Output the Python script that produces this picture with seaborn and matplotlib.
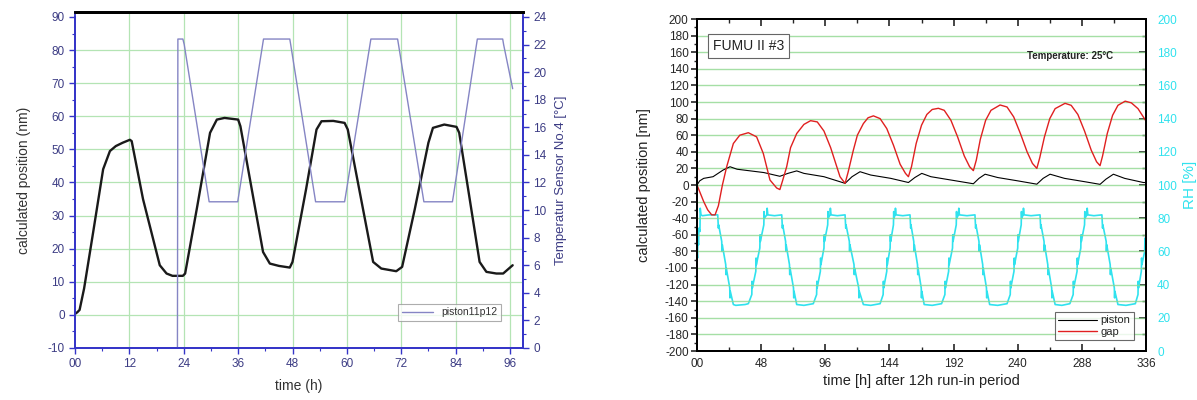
import matplotlib
matplotlib.use("Agg")
import matplotlib.pyplot as plt
from matplotlib.ticker import MultipleLocator
import seaborn as sns

# ---- left chart: piston11p12 and temperature sensor 4 ----
piston_t = [0, 0.5, 1, 2, 4, 6.2, 7.7, 9, 10.5, 12.1, 12.5, 15, 18.7, 20.2, 21.5, 23.8,
            24.3, 27, 29.8, 31.3, 33, 36, 36.5, 39, 41.5, 43, 45, 47.4,
            48, 51, 53.3, 54.4, 57, 59.5, 60.2, 63, 65.8, 67.6, 70.9,
            72.2, 75, 78, 79, 81.5, 84.2, 84.8, 87, 89.3, 90.8, 93, 94.5, 96.6]
piston_y = [0.3, 0.8, 1.5, 8, 25, 44, 49.5, 51, 52, 52.9, 52.5, 35, 15, 12.5, 11.8, 11.8,
            12.5, 33, 55, 59, 59.5, 59, 57, 38, 19, 15.5, 14.8, 14.3,
            16, 38, 56, 58.5, 58.6, 58, 56, 36, 16, 14, 13.2,
            14.5, 32, 52, 56.5, 57.5, 56.8, 55, 36, 16, 13, 12.5, 12.5, 15]

temp_t = [22.6, 22.7, 23.8, 24.1, 29.6, 35.9, 36.1, 41.6, 47.4, 47.6, 53.1, 59.5, 59.7,
          65.3, 71.2, 71.4, 77.0, 83.3, 83.5, 88.8, 94.4, 94.6, 96.6]
temp_c = [0, 22.4, 22.4, 22.0, 10.6, 10.6, 11.0, 22.4, 22.4, 22.0, 10.6, 10.6, 11.0,
          22.4, 22.4, 22.0, 10.6, 10.6, 11.0, 22.4, 22.4, 22.0, 18.8]

left_xticks = [0, 12, 24, 36, 48, 60, 72, 84, 96]
left_xlabels = ["00", "12", "24", "36", "48", "60", "72", "84", "96"]

# ---- right chart: FUMU II #3 ----
fumu_piston_t = [0, 2, 5, 12, 19.5, 24.7, 30, 40, 50, 62, 68, 74.6, 80, 95, 110.8, 116, 122,
                 130, 145, 158.2, 163, 168.2, 175, 190, 206.8, 211, 215.6, 225, 240, 254.3,
                 259, 264.2, 275, 290, 301.6, 306, 311.6, 320, 334, 336]
fumu_piston_y = [0, 5, 8, 10, 18, 22, 19, 17, 15, 10.5, 14, 17, 14, 10, 2, 10, 16,
                 12, 8, 3, 9, 14, 10, 6, 1.5, 8, 13, 9, 5, 1,
                 8, 13, 8, 4, 0.8, 7, 13, 8, 3, 3]

gap_t = [0, 2, 5, 8, 11, 13.5, 16, 19, 22.2, 27.2, 32, 38.4, 44.6, 49.6, 54.6, 59.6, 62,
         64, 67.1, 70, 74.6, 80, 85, 90, 95, 100, 104, 107, 110.8,
         113, 117, 120, 124.5, 128, 132, 137, 142, 147, 152, 156, 158.2,
         160.5, 164, 168, 172, 176, 180.6, 185, 190, 195, 200, 204, 206.8,
         209, 212, 216, 220, 226.8, 232, 237, 242, 247, 251, 254.3,
         256.5, 260, 264, 268, 275.4, 280, 285, 290, 295, 299, 301.6,
         303.5, 307, 311, 315, 320.4, 325, 330, 334, 336]
gap_y = [0, -8, -20, -30, -36, -36, -25, 0, 22, 50, 60, 63, 58, 38, 6, -3.6, -5.5,
         5, 22, 45, 62, 73, 77.5, 76, 65, 45, 25, 10, 2,
         15, 42, 60, 74, 81, 83.3, 80, 68, 48, 25, 14, 10,
         22, 50, 72, 85, 91, 92.4, 90, 78, 58, 35, 22, 17.3,
         30, 55, 78, 90, 96.4, 94, 82, 62, 40, 26, 20,
         33, 58, 80, 92, 98.4, 96, 85, 65, 42, 28, 23.3,
         35, 62, 84, 96, 101, 99, 92, 82, 77]

rh_t = [0, 0.4, 0.6, 1.2, 1.4, 2.2, 2.4, 3.0, 4.0, 9, 15.5,
        16.0, 16.2, 18.5, 18.7, 18.9, 21.5, 21.7, 21.9, 24.5, 24.7, 24.9, 27.2, 29, 36, 38.4,
        41, 41.2, 41.4, 44, 44.2, 44.4, 47, 47.2, 47.4, 50, 50.2, 50.4, 52.2, 52.5, 53, 58, 63.4,
        63.9, 64.1, 66.3, 66.5, 66.7, 69.2, 69.4, 69.6, 72.2, 72.4, 72.6, 74.6, 80, 87,
        89.5, 89.7, 89.9, 92.3, 92.5, 92.7, 95, 95.2, 95.4, 97.8, 98, 98.2, 99.5, 99.8, 100.3, 105, 110.8,
        111.3, 111.5, 114, 114.2, 114.4, 117.5, 117.7, 117.9, 121, 121.2, 121.4, 124.5, 130, 137,
        139.3, 139.5, 139.7, 142, 142.2, 142.4, 144.5, 144.7, 144.9, 147, 147.2, 147.4, 148.2, 148.5, 149, 154, 159.4,
        159.9, 160.1, 162.2, 162.4, 162.6, 165, 165.2, 165.4, 167.8, 168, 168.2, 170, 176, 183,
        185.5, 185.7, 185.9, 188.3, 188.5, 188.7, 191.2, 191.4, 191.6, 194, 194.2, 194.4, 195.6, 195.9, 196.4, 202, 208,
        208.5, 208.7, 211, 211.2, 211.4, 213.8, 214, 214.2, 216.6, 216.8, 217, 219, 225, 232,
        234.4, 234.6, 234.8, 237.2, 237.4, 237.6, 240, 240.2, 240.4, 242.6, 242.8, 243, 244, 244.3, 244.8, 250, 256.7,
        257.2, 257.4, 259.7, 259.9, 260.1, 262.5, 262.7, 262.9, 265.4, 265.6, 265.8, 268, 273, 279,
        281.5, 281.7, 281.9, 284.4, 284.6, 284.8, 287.2, 287.4, 287.6, 290, 290.2, 290.4, 291.7, 292, 292.5, 297, 303,
        303.5, 303.7, 306.2, 306.4, 306.6, 309.2, 309.4, 309.6, 312.3, 312.5, 312.7, 315, 321, 328,
        330, 330.2, 330.4, 332.5, 332.7, 332.9, 335, 335.2, 335.4, 336]
rh_v = [60, 56, 66, 64, 74, 72, 86, 82, 81.5, 82, 82,
        74, 76, 66, 60, 64, 52, 46, 50, 38, 32, 36, 28, 27.5, 28, 28.5,
        34, 42, 38, 48, 56, 52, 62, 70, 66, 76, 84, 80, 82, 86, 82, 81.5, 82,
        74, 76, 66, 60, 64, 52, 46, 50, 38, 32, 36, 28, 27.5, 28.5,
        34, 42, 38, 48, 56, 52, 62, 70, 66, 76, 84, 80, 82, 86, 82, 81.5, 82,
        74, 76, 66, 60, 64, 52, 46, 50, 38, 32, 36, 28, 27.5, 28.5,
        34, 42, 38, 48, 56, 52, 62, 70, 66, 76, 84, 80, 82, 86, 82, 81.5, 82,
        74, 76, 66, 60, 64, 52, 46, 50, 38, 32, 36, 28, 27.5, 28.5,
        34, 42, 38, 48, 56, 52, 62, 70, 66, 76, 84, 80, 82, 86, 82, 81.5, 82,
        74, 76, 66, 60, 64, 52, 46, 50, 38, 32, 36, 28, 27.5, 28.5,
        34, 42, 38, 48, 56, 52, 62, 70, 66, 76, 84, 80, 82, 86, 82, 81.5, 82,
        74, 76, 66, 60, 64, 52, 46, 50, 38, 32, 36, 28, 27.5, 28.5,
        34, 42, 38, 48, 56, 52, 62, 70, 66, 76, 84, 80, 82, 86, 82, 81.5, 82,
        74, 76, 66, 60, 64, 52, 46, 50, 38, 32, 36, 28, 27.5, 28.5,
        34, 42, 38, 48, 56, 52, 60, 68, 64, 62]

right_xticks = [0, 48, 96, 144, 192, 240, 288, 336]
right_xlabels = ["00", "48", "96", "144", "192", "240", "288", "336"]

sns.set_style("white")
plt.rcParams['font.family'] = ['Liberation Sans', 'DejaVu Sans']
plt.rcParams['axes.unicode_minus'] = False

navy = "#3c3c84"
spine_blue = "#3535c8"
lavender = "#8585c4"
grid_green = "#b4e4b4"
cyan = "#30e2ee"

fig = plt.figure(figsize=(11.97, 4), dpi=100)

# ================= left chart =================
ax1 = fig.add_axes([0.0627, 0.13, 0.3743, 0.84])
ax1t = ax1.twinx()
sns.lineplot(x=piston_t, y=piston_y, ax=ax1, color="#1a1a1a", lw=1.7, sort=False, estimator=None)
sns.lineplot(x=temp_t, y=temp_c, ax=ax1t, color=lavender, lw=1.0, sort=False, estimator=None,
             label="piston11p12")

ax1.set_xlim(0, 98.9)
ax1.set_ylim(-10, 91.5)
ax1t.set_ylim(0, 24.36)
ax1.set_xticks(left_xticks)
ax1.set_xticklabels(left_xlabels)
ax1.set_yticks(range(-10, 91, 10))
ax1.xaxis.set_minor_locator(MultipleLocator(6))
ax1.yaxis.set_minor_locator(MultipleLocator(5))
ax1t.set_yticks(range(0, 25, 2))
ax1t.yaxis.set_minor_locator(MultipleLocator(1))
for ax in (ax1, ax1t):
    ax.tick_params(which="major", direction="out", length=4, width=1, color=spine_blue,
                   labelcolor=navy, labelsize=8.5)
    ax.tick_params(which="minor", direction="out", length=2.5, width=0.8, color=spine_blue)
ax1.tick_params(axis="x", which="both", bottom=True)
ax1.tick_params(axis="y", which="both", left=True)
ax1t.tick_params(axis="y", which="both", right=True)

for x in left_xticks[1:]:
    ax1.axvline(x, color=grid_green, lw=0.9, zorder=0)
for y in range(0, 81, 10):
    ax1.axhline(y, color=grid_green, lw=0.9, zorder=0)

for ax in (ax1, ax1t):
    for side in ("left", "bottom", "right"):
        ax.spines[side].set_color(spine_blue)
        ax.spines[side].set_linewidth(1.3)
    ax.spines["top"].set_color("black")
    ax.spines["top"].set_linewidth(2)
ax1.spines["left"].set_bounds(-10, 90)
ax1t.spines["right"].set_bounds(0, 24)

ax1.set_xlabel("time (h)", fontsize=10, color="#333333", labelpad=6)
ax1.set_ylabel("calculated position (nm)", fontsize=10, color="#333333", labelpad=12)
ax1t.set_ylabel("Temperatur Sensor No.4 [°C]", fontsize=9.5, color=navy, labelpad=6)
leg1 = ax1t.legend(loc="lower right", bbox_to_anchor=(0.962, 0.065), fontsize=7.5,
                   frameon=True, fancybox=False, handlelength=3, borderpad=0.35)
leg1.get_frame().set_edgecolor("#999999")
leg1.get_frame().set_linewidth(0.8)
for txt in leg1.get_texts():
    txt.set_color("#333333")

# ================= right chart =================
ax2 = fig.add_axes([0.5823, 0.1225, 0.3751, 0.83])
ax2r = ax2.twinx()
for y in range(-180, 181, 20):
    ax2.axhline(y, color="#8fd88f", lw=1.0, alpha=0.8, zorder=0)
sns.lineplot(x=rh_t, y=rh_v, ax=ax2r, color=cyan, lw=1.2, sort=False, estimator=None)
sns.lineplot(x=fumu_piston_t, y=fumu_piston_y, ax=ax2, color="black", lw=0.8, sort=False,
             estimator=None, label="piston")
sns.lineplot(x=gap_t, y=gap_y, ax=ax2, color="#e02020", lw=1.0, sort=False,
             estimator=None, label="gap")
ax2.set_zorder(ax2r.get_zorder() + 1)
ax2.patch.set_visible(False)

ax2.set_xlim(0, 336)
ax2.set_ylim(-200, 200)
ax2r.set_ylim(0, 200)
ax2.set_xticks(right_xticks)
ax2.set_xticklabels(right_xlabels)
ax2.set_yticks(range(-200, 201, 20))
ax2.xaxis.set_minor_locator(MultipleLocator(24))
ax2.yaxis.set_minor_locator(MultipleLocator(10))
ax2r.set_yticks(range(0, 201, 20))
ax2r.yaxis.set_minor_locator(MultipleLocator(10))
ax2.tick_params(axis="x", which="major", direction="in", length=5, width=1.2,
                top=True, bottom=True, labelsize=8.5, pad=5)
ax2.tick_params(axis="x", which="minor", direction="in", length=3, width=1, top=True, bottom=True)
ax2.tick_params(axis="y", which="major", direction="out", length=4, width=1.2,
                left=True, labelsize=8.5, pad=2)
ax2.tick_params(axis="y", which="minor", direction="out", length=2.5, width=1, left=True)
ax2r.tick_params(axis="y", which="major", direction="in", length=5, width=1.2, right=True,
                 labelcolor=cyan, labelsize=8.5, pad=8)
ax2r.tick_params(axis="y", which="minor", direction="in", length=3, width=1, right=True)
for ax in (ax2, ax2r):
    for side in ("left", "bottom", "right", "top"):
        ax.spines[side].set_color("black")
        ax.spines[side].set_linewidth(1.4)

ax2.set_xlabel("time [h] after 12h run-in period", fontsize=10.5, color="#222222", labelpad=3)
ax2.set_ylabel("calculated position [nm]", fontsize=10.5, color="#222222", labelpad=10)
ax2r.set_ylabel("RH [%]", fontsize=11, color=cyan, labelpad=4)

ax2.text(0.036, 0.919, "FUMU II #3", transform=ax2.transAxes, fontsize=10, color="#222222",
         va="center", ha="left",
         bbox=dict(boxstyle="square,pad=0.35", facecolor="white", edgecolor="#666666", lw=0.8))
ax2.text(0.83, 0.89, "Temperature: 25°C", transform=ax2.transAxes, fontsize=7,
         fontweight="bold", color="#222222", ha="center", va="center")

leg2 = ax2.legend(loc="lower right", bbox_to_anchor=(0.985, 0.015), fontsize=8,
                  frameon=True, fancybox=False, handlelength=3.5, borderpad=0.3,
                  labelspacing=0.15, handletextpad=0.3)
leg2.get_frame().set_edgecolor("#444444")
leg2.get_frame().set_linewidth(0.8)

fig.savefig("out.png", dpi=100)
